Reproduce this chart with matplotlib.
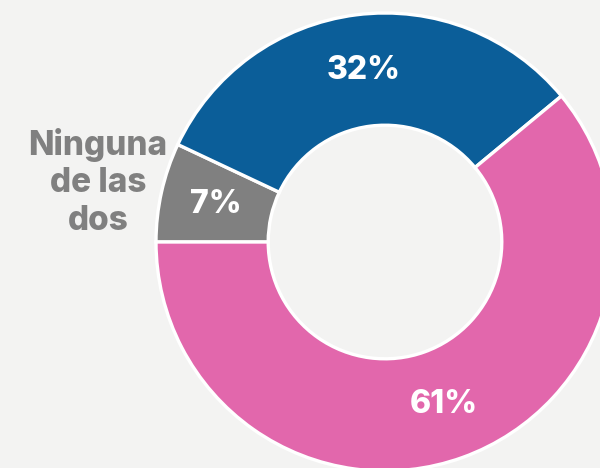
import matplotlib
matplotlib.use("Agg")
import matplotlib.pyplot as plt

categories = ["Ninguna de las dos", "Azul", "Rosa"]
values = [7, 32, 61]
colors = ["#808080", "#0b5e99", "#e267ac"]
side_label = "Ninguna\nde las\ndos"

plt.rcParams['font.family'] = ['Inter', 'DejaVu Sans']

W, H = 600, 468
fig = plt.figure(figsize=(W / 100, H / 100), dpi=100)
bg = "#f3f3f2"
fig.patch.set_facecolor(bg)

cx, cy, R = 385, 242, 229
ax = fig.add_axes([(cx - R) / W, (H - cy - R) / H, 2 * R / W, 2 * R / H])
ax.set_facecolor("none")

wedges, texts, autotexts = ax.pie(
    values, colors=colors, startangle=180, counterclock=False, radius=1,
    wedgeprops=dict(width=0.49, edgecolor="white", linewidth=2.4),
    autopct=lambda p: f"{round(p)}%", pctdistance=0.755,
    textprops=dict(color="white", fontsize=23, fontweight="heavy"))
for w in wedges:
    w.set_clip_on(False)
ax.set_xlim(-1, 1)
ax.set_ylim(-1, 1)
ax.set_aspect("auto")
ax.axis("off")

ax.text((98 - cx) / R, (cy - 182) / R, side_label, ha="center", va="center",
        color="#808080", fontsize=24, fontweight="heavy", linespacing=1.22)

fig.savefig("out.png", dpi=100, facecolor=bg)
